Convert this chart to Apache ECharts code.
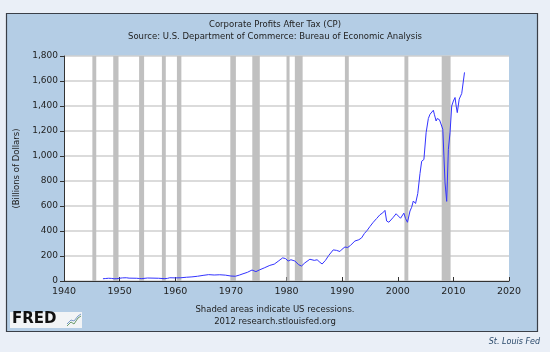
<!DOCTYPE html>
<html>
<head>
<meta charset="utf-8">
<script src="https://cdn.jsdelivr.net/npm/echarts@6/dist/echarts.min.js"></script>
<style>
html, body { margin: 0; padding: 0; background: #eaeff7; }
#chart { width: 550px; height: 352px; }
</style>
</head>
<body>
<div id="chart"></div>
<script>
// Corporate Profits After Tax (CP), billions of dollars
var years = [
  1947.0, 1947.5, 1948.0, 1948.5, 1949.0, 1949.5, 1950.0, 1950.5, 1950.8, 1951.2, 1951.7,
  1952.0, 1953.0, 1953.6, 1954.0, 1955.0, 1956.0, 1957.0, 1958.0, 1958.6, 1959.0,
  1960.0, 1961.0, 1962.0, 1963.0, 1964.0, 1965.0, 1966.0, 1967.0, 1968.0, 1969.0,
  1970.0, 1970.8, 1971.5, 1972.0, 1973.0, 1973.8, 1974.5, 1975.2, 1976.0, 1977.0,
  1977.8, 1978.5, 1979.3, 1979.8, 1980.3, 1980.8, 1981.5, 1982.2, 1982.7, 1983.3,
  1984.2, 1985.0, 1985.5, 1986.0, 1986.4, 1987.0, 1987.6, 1988.4, 1989.0, 1989.6,
  1990.0, 1990.5, 1991.0, 1991.5, 1992.3, 1993.0, 1993.5, 1994.0, 1994.5, 1995.0,
  1995.6, 1996.2, 1996.8, 1997.3, 1997.7, 1998.0, 1998.4, 1998.7, 1999.2, 1999.7,
  2000.1, 2000.5, 2001.1, 2001.4, 2001.75, 2002.2, 2002.5, 2002.8, 2003.2, 2003.6,
  2004.0, 2004.3, 2004.7, 2005.1, 2005.5, 2005.8, 2006.1, 2006.4, 2006.6, 2006.9,
  2007.1, 2007.3, 2007.5, 2007.7, 2007.9, 2008.1, 2008.3, 2008.5, 2008.8, 2009.1,
  2009.4, 2009.7, 2010.0, 2010.3, 2010.5, 2010.7, 2011.05, 2011.3, 2011.5, 2011.8,
  2012.0
];
var profits = [
  18, 20, 22, 21, 18, 19, 22, 25, 33, 26, 23,
  21, 22, 20, 19, 24, 23, 22, 19, 21, 26,
  25, 26, 30, 33, 38, 45, 51, 48, 50, 47,
  40, 38, 47, 55, 70, 88, 75, 90, 105, 125,
  135, 158, 185, 180, 160, 170, 160, 130, 120, 145,
  174, 165, 170, 150, 136, 165, 205, 249, 245, 236,
  255, 272, 268, 285, 320, 330, 345, 380, 405, 436,
  470, 500, 530, 545, 565, 480, 470, 462, 510, 538,
  520, 502, 543, 500, 470, 560, 590, 640, 620, 700,
  860, 958, 972, 1187, 1300, 1334, 1340, 1366, 1330, 1280,
  1300, 1308, 1290, 1294, 1240, 1213, 1200, 785, 637, 1053,
  1187, 1400, 1440, 1468, 1400, 1347, 1455, 1480, 1500, 1508,
  1669
];

// NBER recessions (shaded bars)
var recessionStart = [1945.1, 1948.85, 1953.5, 1957.6, 1960.3, 1969.9, 1973.85, 1980.0, 1981.5, 1990.5, 2001.2, 2007.9];
var recessionEnd   = [1945.8, 1949.8, 1954.4, 1958.3, 1961.1, 1970.9, 1975.2, 1980.55, 1982.9, 1991.2, 2001.9, 2009.5];

var yTicks = [0, 200, 400, 600, 800, 1000, 1200, 1400, 1600, 1800];

var points = years.map(function(y, i) { return [y, profits[i]]; });
var shades = recessionStart.map(function(s, i) {
    return [{ xAxis: s }, { xAxis: recessionEnd[i] }];
});

var FONT = 'DejaVu Sans';
var chart = echarts.init(document.getElementById('chart'));
chart.setOption({
    backgroundColor: '#eaeff7',
    animation: false,
    graphic: [
        { type: 'rect', z: -10, shape: { x: 6.5, y: 13.5, width: 531, height: 318 },
          style: { fill: '#b4cde5', stroke: '#3a3f48', lineWidth: 1.2 } },
        { type: 'rect', z: 5, shape: { x: 10, y: 312, width: 72, height: 16 },
          style: { fill: '#f2f4f6' } },
        { type: 'text', z: 6, left: 12, top: 312,
          style: { text: 'FRED', font: 'bold 15px "DejaVu Sans"', fill: '#111' } },
        { type: 'polyline', z: 6, shape: { points: [[67, 326], [71, 322], [74, 324], [78, 318], [81, 316]] },
          style: { stroke: '#6a9a6a', lineWidth: 1, fill: null } },
        { type: 'polyline', z: 6, shape: { points: [[67, 324], [71, 320], [74, 321], [78, 316], [81, 314]] },
          style: { stroke: '#7a9ac8', lineWidth: 1, fill: null } },
        { type: 'text', left: 'center', top: 304,
          style: { text: 'Shaded areas indicate US recessions.\n2012 research.stlouisfed.org',
                   font: '8.5px "DejaVu Sans"', fill: '#222', textAlign: 'center', lineHeight: 12 },
          x: 4 },
        { type: 'text', right: 10, top: 338,
          style: { text: 'St. Louis Fed', font: 'italic 8px "DejaVu Sans"', fill: '#2b4a6b' } }
    ],
    title: {
        text: 'Corporate Profits After Tax (CP)',
        subtext: 'Source: U.S. Department of Commerce: Bureau of Economic Analysis',
        left: 'center',
        top: 15,
        itemGap: 3,
        textStyle: { fontFamily: FONT, fontSize: 8.5, fontWeight: 'normal', color: '#222' },
        subtextStyle: { fontFamily: FONT, fontSize: 8.5, color: '#222' }
    },
    grid: {
        left: 64, right: 41, top: 56, bottom: 71,
        show: true, backgroundColor: '#ffffff', borderWidth: 0
    },
    xAxis: {
        type: 'value',
        min: 1940, max: 2020, interval: 10,
        axisLine: { show: true, lineStyle: { color: '#333', width: 1 } },
        axisTick: { show: true, inside: true, length: 4, lineStyle: { color: '#333' } },
        axisLabel: {
            fontFamily: FONT, fontSize: 9.5, color: '#222', margin: 6,
            formatter: function(v) { return String(v); }
        },
        splitLine: { show: false }
    },
    yAxis: {
        type: 'value',
        min: 0, max: 1800, interval: 200,
        name: '(Billions of Dollars)',
        nameLocation: 'middle',
        nameGap: 42,
        nameTextStyle: { fontFamily: FONT, fontSize: 8.5, color: '#222' },
        axisLine: { show: true, lineStyle: { color: '#333', width: 1 } },
        axisTick: { show: true, length: 4, lineStyle: { color: '#333' } },
        axisLabel: {
            fontFamily: FONT, fontSize: 9, color: '#222', margin: 6,
            formatter: function(v) { return yTicks.indexOf(v) >= 0 ? v.toLocaleString('en-US') : ''; }
        },
        splitLine: { show: true, lineStyle: { color: '#cfcfcf', width: 1.5 } }
    },
    series: [{
        type: 'line',
        data: points,
        symbol: 'none',
        lineStyle: { color: '#3333ff', width: 1 },
        markArea: {
            silent: true,
            itemStyle: { color: '#c0c0c0' },
            data: shades
        },
        z: 3
    }]
});
</script>
</body>
</html>
